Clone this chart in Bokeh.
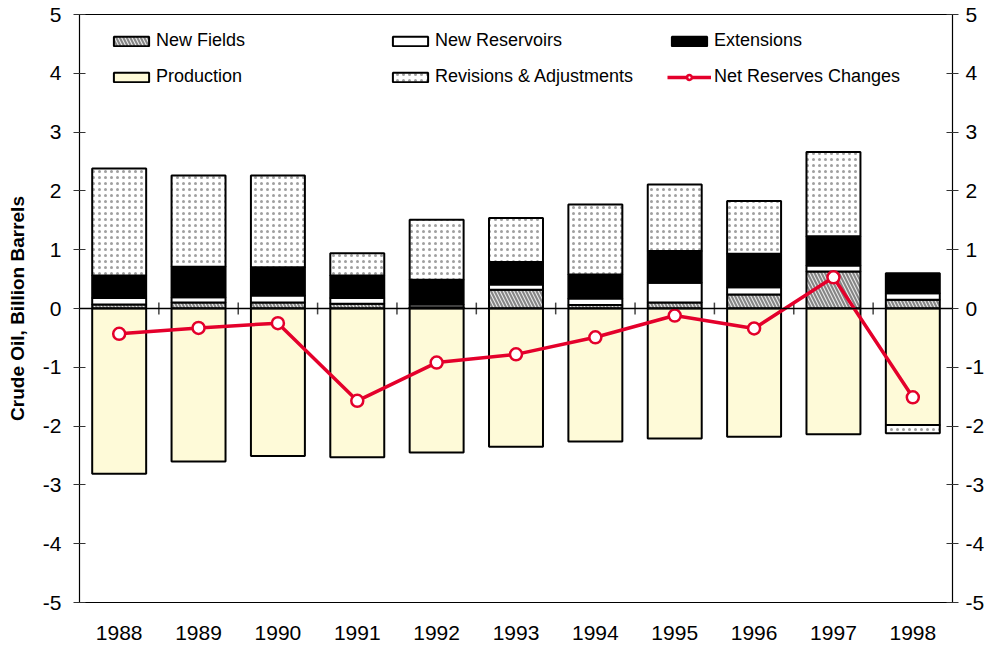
import numpy as np
from bokeh.plotting import figure
from bokeh.models import (ColumnDataSource, Span, Legend, LegendItem, LinearAxis,
                          FixedTicker, Range1d)
from bokeh.embed import file_html
from bokeh.resources import INLINE

# ---------------- data ----------------
years = ["1988", "1989", "1990", "1991", "1992", "1993", "1994", "1995", "1996", "1997", "1998"]
new_fields = [0.07, 0.10, 0.10, 0.08, 0.02, 0.32, 0.06, 0.10, 0.24, 0.63, 0.15]
new_reservoirs = [0.11, 0.09, 0.12, 0.10, 0.05, 0.09, 0.11, 0.34, 0.12, 0.10, 0.11]
extensions = [0.38, 0.52, 0.48, 0.38, 0.42, 0.38, 0.41, 0.54, 0.57, 0.50, 0.34]
revisions = [1.82, 1.55, 1.56, 0.38, 1.02, 0.75, 1.19, 1.13, 0.90, 1.43, -0.14]
production = [-2.81, -2.60, -2.51, -2.53, -2.45, -2.35, -2.26, -2.21, -2.18, -2.14, -1.98]
net_changes = [-0.43, -0.33, -0.25, -1.57, -0.92, -0.78, -0.49, -0.12, -0.34, 0.53, -1.51]
y_ticks = [-5, -4, -3, -2, -1, 0, 1, 2, 3, 4, 5]

FONT = "Liberation Sans"
RED = "#E4002B"

idx = list(range(len(years)))
x = np.array(idx, dtype=float)

p = figure(width=990, height=649, x_range=Range1d(-0.5, len(years) - 0.5),
           y_range=Range1d(y_ticks[0], y_ticks[-1]),
           output_backend="svg", toolbar_location=None,
           min_border_left=79, min_border_right=38, min_border_top=14, min_border_bottom=47)
p.outline_line_color = "black"
p.outline_line_width = 1.2
p.xgrid.visible = False
p.ygrid.visible = False
p.background_fill_color = "white"

# x axis: year labels only
xa = p.xaxis[0]
xa.ticker = FixedTicker(ticks=idx)
xa.major_label_overrides = {i: years[i] for i in idx}
xa.axis_line_color = None
xa.major_tick_line_color = None
xa.minor_tick_line_color = None
xa.major_tick_in = 0
xa.major_tick_out = 0
xa.major_label_standoff = 23
xa.major_label_text_font = FONT
xa.major_label_text_font_size = "21px"
xa.major_label_text_color = "black"

def style_y(ax, standoff):
    ax.ticker = FixedTicker(ticks=y_ticks)
    ax.major_label_overrides = {t: str(t) for t in y_ticks}
    ax.axis_line_color = "black"
    ax.major_tick_line_color = "#333333"
    ax.major_tick_in = 6
    ax.major_tick_out = 6
    ax.minor_tick_line_color = None
    ax.major_label_text_font = FONT
    ax.major_label_text_font_size = "21px"
    ax.major_label_text_color = "black"
    ax.major_label_standoff = standoff

style_y(p.yaxis[0], 12)
p.yaxis.axis_label = "Crude Oil, Billion Barrels"
p.yaxis.axis_label_text_font = FONT
p.yaxis.axis_label_text_font_size = "19px"
p.yaxis.axis_label_text_font_style = "bold"
p.yaxis.axis_label_text_color = "black"
p.yaxis.axis_label_standoff = 12

right_ax = LinearAxis()
style_y(right_ax, 7)
p.add_layout(right_ax, "right")

# ---------------- stacked bars ----------------
series = [
    ("New Fields", new_fields, dict(fill_color="#e8e8e8", hatch_pattern="left_diagonal_line",
                                    hatch_color="#858585", hatch_weight=2, hatch_scale=7)),
    ("New Reservoirs", new_reservoirs, dict(fill_color="white")),
    ("Extensions", extensions, dict(fill_color="black")),
    ("Production", production, dict(fill_color="#FEFAD8")),
    ("Revisions & Adjustments", revisions, dict(fill_color="white", hatch_pattern="dot",
                                               hatch_color="#a0a0a0", hatch_weight=2, hatch_scale=6)),
]
pos = np.zeros(len(years))
neg = np.zeros(len(years))
renderers = {}
for name, vals, style in series:
    v = np.array(vals, dtype=float)
    bottom = np.where(v >= 0, pos, neg + v)
    top = np.where(v >= 0, pos + v, neg)
    pos = np.where(v >= 0, pos + v, pos)
    neg = np.where(v < 0, neg + v, neg)
    src = ColumnDataSource(dict(x=x, top=top, bottom=bottom))
    renderers[name] = p.vbar(x="x", width=0.68, top="top", bottom="bottom", source=src,
                             line_color="black", line_width=2, **style)

# zero line and category separators
p.add_layout(Span(location=0, dimension="width", line_color="black", line_width=1.5))
bounds = x[:-1] + 0.5
p.segment(x0=bounds, y0=-0.1, x1=bounds, y1=0.1, line_color="#444444", line_width=1.5)

# net reserves line
net_src = ColumnDataSource(dict(x=x, y=net_changes))
r_line = p.line("x", "y", source=net_src, line_color=RED, line_width=3.5)
r_pts = p.scatter("x", "y", source=net_src, size=12, fill_color="white",
                  line_color=RED, line_width=2.5)

# ---------------- legend ----------------
def make_legend(items, loc):
    lg = Legend(items=items, orientation="horizontal", location=loc,
                label_text_font=FONT, label_text_font_size="18px", label_text_color="black",
                glyph_width=44, glyph_height=12, label_height=20, label_standoff=3,
                label_width=228, spacing=4, padding=0, margin=0,
                border_line_alpha=0, background_fill_alpha=0)
    p.add_layout(lg)

make_legend([LegendItem(label="New Fields", renderers=[renderers["New Fields"]]),
             LegendItem(label="New Reservoirs", renderers=[renderers["New Reservoirs"]]),
             LegendItem(label="Extensions", renderers=[renderers["Extensions"]])], (30, 551))
make_legend([LegendItem(label="Production", renderers=[renderers["Production"]]),
             LegendItem(label="Revisions & Adjustments", renderers=[renderers["Revisions & Adjustments"]]),
             LegendItem(label="Net Reserves Changes", renderers=[r_line, r_pts])], (30, 515))

open("out.html", "w").write(file_html(p, INLINE))
